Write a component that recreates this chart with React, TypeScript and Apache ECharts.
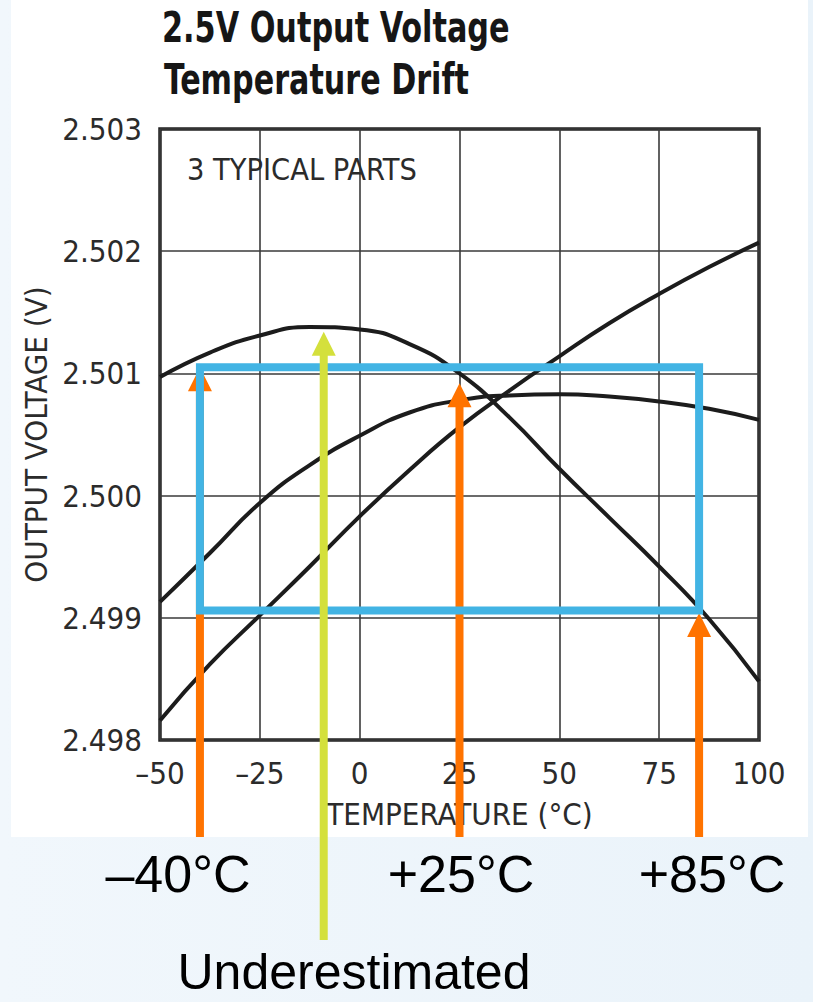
import React, { useEffect, useRef } from "react";
import * as echarts from "echarts";

// Output voltage of three typical parts vs. temperature
const temperatures = [-50, -37.5, -25, -12.5, 0, 12.5, 25, 37.5, 50, 62.5, 75, 87.5, 100];
const partA = [2.50097, 2.50117, 2.50131, 2.50138, 2.50136, 2.50124, 2.501, 2.50064, 2.50022, 2.49982, 2.49942, 2.49899, 2.49848];
const partB = [2.49913, 2.49953, 2.49994, 2.50025, 2.50049, 2.50068, 2.50078, 2.50082, 2.50083, 2.50081, 2.50077, 2.50071, 2.50062];
const partC = [2.49816, 2.49862, 2.49902, 2.49942, 2.49983, 2.50021, 2.50056, 2.50086, 2.50114, 2.50141, 2.50165, 2.50187, 2.50207];

// Axis ranges
const xMin = -50;
const xMax = 100;
const xStep = 25;
const yMin = 2.498;
const yMax = 2.503;
const yStep = 0.001;

// Box-method annotation: spec temperatures and the voltages the arrows point at
const specTemps = [-40, 25, 85];
const specVolts = [2.50105, 2.50092, 2.49904];
const boxTemps = [-40, 85];
const boxVolts = [2.49906, 2.50105];
const peakTemp = -9;
const peakVolt = 2.50134;
const peakLabel = "Underestimated";

const ORANGE = "#ff7300";
const BLUE = "#42b4e4";
const LIME = "#d4e03c";
const CURVE = "#1c1c1c";
const NARROW = "'Liberation Sans Narrow', 'DejaVu Sans Condensed', 'Arial Narrow', sans-serif";
const SANS = "'Liberation Sans', Arial, sans-serif";

const fmtTemp = (t: number) => (t < 0 ? "\u2013" + Math.abs(t) : "+" + t) + "°C";

// Horizontal squeeze so a text spans the given width in whatever font is available
function fitScale(text: string, font: string, width: number) {
  const ctx = document.createElement("canvas").getContext("2d");
  if (!ctx) return 1;
  ctx.font = font;
  const w = ctx.measureText(text).width;
  return w > 0 ? width / w : 1;
}

export default function App() {
  const ref = useRef<HTMLDivElement>(null);

  useEffect(() => {
    if (!ref.current) return;
    const chart = echarts.init(ref.current, null, { renderer: "svg" });

    const grid = { left: 160, top: 129, width: 599, height: 611 };
    const orangeEnd = 837;
    const limeEnd = 940;
    const labelCenters = [178, 461, 712];

    const titleFont = "bold 42px " + NARROW;
    const noteFont = "30px " + NARROW;

    const squeezed = (text: string, font: string, x: number, y: number, width: number, fill: string) => ({
      type: "text",
      z: 100,
      x,
      y,
      scaleX: fitScale(text, font, width),
      style: { text, x: 0, y: 0, verticalAlign: "middle", font, fill },
    });

    const arrow = (p: number[], endY: number, color: string) => {
      const head = 24;
      const half = 12;
      return {
        type: "group",
        children: [
          {
            type: "line",
            shape: { x1: p[0], y1: endY, x2: p[0], y2: p[1] + head - 2 },
            style: { stroke: color, lineWidth: 8 },
          },
          {
            type: "polygon",
            shape: { points: [[p[0], p[1]], [p[0] - half, p[1] + head], [p[0] + half, p[1] + head]] },
            style: { fill: color },
          },
        ],
      };
    };

    const curve = (name: string, vals: number[]) => ({
      name,
      type: "line",
      data: temperatures.map((t, i) => [t, vals[i]]),
      smooth: 0.5,
      symbol: "none",
      lineStyle: { color: CURVE, width: 4 },
      z: 3,
    });

    chart.setOption({
      animation: false,
      backgroundColor: {
        type: "linear",
        x: 0, y: 0, x2: 1, y2: 0,
        colorStops: [
          { offset: 0, color: "#f1f7fc" },
          { offset: 1, color: "#eaf3fa" },
        ],
      },
      grid: {
        ...grid,
        show: true,
        backgroundColor: "#ffffff",
        borderColor: "#222",
        borderWidth: 3.5,
      },
      xAxis: {
        type: "value",
        min: xMin,
        max: xMax,
        interval: xStep,
        name: "TEMPERATURE (°C)",
        nameLocation: "middle",
        nameGap: 58,
        nameTextStyle: { fontFamily: NARROW, fontSize: 31, color: "#2b2b2b" },
        axisLine: { show: false },
        axisTick: { show: false },
        axisLabel: {
          margin: 17,
          fontFamily: NARROW,
          fontSize: 31,
          color: "#2b2b2b",
          formatter: (v: number) => (v < 0 ? "\u2013" + Math.abs(v) : String(v)),
        },
        splitLine: { lineStyle: { color: "#3a3a3a", width: 1.6 } },
      },
      yAxis: {
        type: "value",
        min: yMin,
        max: yMax,
        interval: yStep,
        name: "OUTPUT VOLTAGE (V)",
        nameLocation: "middle",
        nameGap: 78,
        nameTextStyle: { fontFamily: NARROW, fontSize: 31, color: "#2b2b2b" },
        axisLine: { show: false },
        axisTick: { show: false },
        axisLabel: {
          margin: 18,
          fontFamily: NARROW,
          fontSize: 31,
          color: "#2b2b2b",
          formatter: (v: number) => v.toFixed(3),
        },
        splitLine: { lineStyle: { color: "#3a3a3a", width: 1.6 } },
      },
      graphic: [
        {
          type: "rect",
          z: -100,
          shape: { x: 11, y: 0, width: 797, height: 837 },
          style: { fill: "#ffffff" },
        },
        squeezed("2.5V Output Voltage", titleFont, 162, 28, 348, "#161616"),
        squeezed("Temperature Drift", titleFont, 164, 80, 305, "#161616"),
        squeezed("3 TYPICAL PARTS", noteFont, 187, 170, 230, "#2b2b2b"),
        ...specTemps.map((t, i) => ({
          type: "text",
          z: 100,
          style: {
            text: fmtTemp(t),
            x: labelCenters[i],
            y: 874,
            align: "center",
            verticalAlign: "middle",
            font: "52px " + SANS,
            lineHeight: 52,
            fill: "#000",
          },
        })),
        {
          type: "text",
          z: 100,
          style: {
            text: peakLabel,
            x: 354,
            y: 972,
            align: "center",
            verticalAlign: "middle",
            font: "50px " + SANS,
            lineHeight: 44,
            fill: "#000",
          },
        },
      ],
      series: [
        curve("Part A", partA),
        curve("Part B", partB),
        curve("Part C", partC),
        {
          name: "Spec temperatures",
          type: "custom",
          coordinateSystem: "cartesian2d",
          encode: { x: 0, y: 1 },
          clip: false,
          z: 5,
          data: specTemps.map((t, i) => [t, specVolts[i]]),
          renderItem: (_p: any, api: any) => arrow(api.coord([api.value(0), api.value(1)]), orangeEnd, ORANGE),
        },
        {
          name: "Box",
          type: "custom",
          coordinateSystem: "cartesian2d",
          encode: { x: [0, 2], y: [1, 3] },
          clip: false,
          z: 6,
          data: [[boxTemps[0], boxVolts[0], boxTemps[1], boxVolts[1]]],
          renderItem: (_p: any, api: any) => {
            const a = api.coord([api.value(0), api.value(1)]);
            const b = api.coord([api.value(2), api.value(3)]);
            return {
              type: "rect",
              shape: { x: a[0], y: b[1], width: b[0] - a[0], height: a[1] - b[1] },
              style: { fill: "none", stroke: BLUE, lineWidth: 8 },
            };
          },
        },
        {
          name: "Peak",
          type: "custom",
          coordinateSystem: "cartesian2d",
          encode: { x: 0, y: 1 },
          clip: false,
          z: 7,
          data: [[peakTemp, peakVolt]],
          renderItem: (_p: any, api: any) => arrow(api.coord([api.value(0), api.value(1)]), limeEnd, LIME),
        },
      ],
    });

    return () => chart.dispose();
  }, []);

  return (
    <div
      ref={ref}
      style={{ position: "absolute", left: 0, top: 0, width: 813, height: 1002 }}
    />
  );
}
